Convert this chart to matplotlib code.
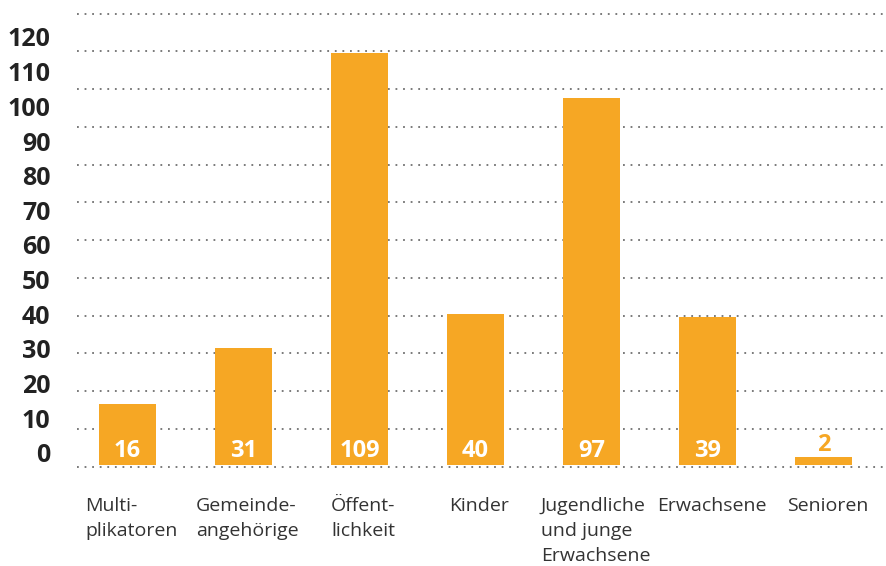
import matplotlib
matplotlib.use("Agg")
import matplotlib.pyplot as plt
import matplotlib.transforms as mtransforms

categories = ["Multi-\nplikatoren", "Gemeinde-\nangehörige", "Öffent-\nlichkeit", "Kinder",
              "Jugendliche\nund junge\nErwachsene", "Erwachsene", "Senioren"]
values = [16, 31, 109, 40, 97, 39, 2]
y_ticks = list(range(0, 130, 10))

BAR = "#F6A724"
plt.rcParams['font.family'] = ['Open Sans', 'DejaVu Sans']

W, H = 886, 566
fig = plt.figure(figsize=(W / 100, H / 100), dpi=100)
left = 77 / W
bottom = (H - 466.5) / H
top = (H - 13.5) / H
ax = fig.add_axes([left, bottom, 1 - left, top - bottom])

x = list(range(len(values)))
base = 0.5  # bars start slightly above the zero gridline in the original
ax.bar(x, values, width=0.49, bottom=base, color=BAR, zorder=3)
ax.set_xlim(-0.435, 6.54)
ax.set_ylim(0, 120)
ax.set_yticks(y_ticks)
ax.yaxis.grid(True, linestyle=(0, (1, 3.2)), color="#707070", linewidth=1.3)
for gl in ax.get_ygridlines():
    gl.set_clip_on(False)
ax.set_axisbelow(True)
for s in ax.spines.values():
    s.set_visible(False)
ax.tick_params(axis='y', length=0, labelleft=False)
ax.set_xticks(x)
ax.set_xticklabels(categories, fontsize=14, color="#333333", linespacing=1.5,
                   multialignment='left', va='top')
ax.tick_params(axis='x', length=0, pad=22)
shift = mtransforms.ScaledTranslation(4 / 100, 0, fig.dpi_scale_trans)
for lbl in ax.get_xticklabels():
    lbl.set_transform(lbl.get_transform() + shift)

for xi, v in zip(x, values):
    if v >= 10:
        ax.text(xi, 4.1, str(v), ha='center', va='center', color='white',
                fontsize=17, fontweight='bold', zorder=4)
    else:
        ax.text(xi, v + 3.7, str(v), ha='center', va='center', color=BAR,
                fontsize=17, fontweight='bold', zorder=4)

# tick label axis (labels in the original sit on a slightly compressed scale)
ax2 = fig.add_axes(ax.get_position())
ax2.patch.set_visible(False)
for s in ax2.spines.values():
    s.set_visible(False)
ax2.set_xticks([])
ax2.set_ylim(-(466.5 - 453) * 120 / 416, 120 + (37 - 13.5) * 120 / 416)
ax2.set_yticks(y_ticks)
ax2.set_yticklabels([str(t) for t in y_ticks], fontsize=18, fontweight='bold', color="#222222")
ax2.tick_params(axis='y', length=0, pad=19)

fig.savefig("out.png", dpi=100)
